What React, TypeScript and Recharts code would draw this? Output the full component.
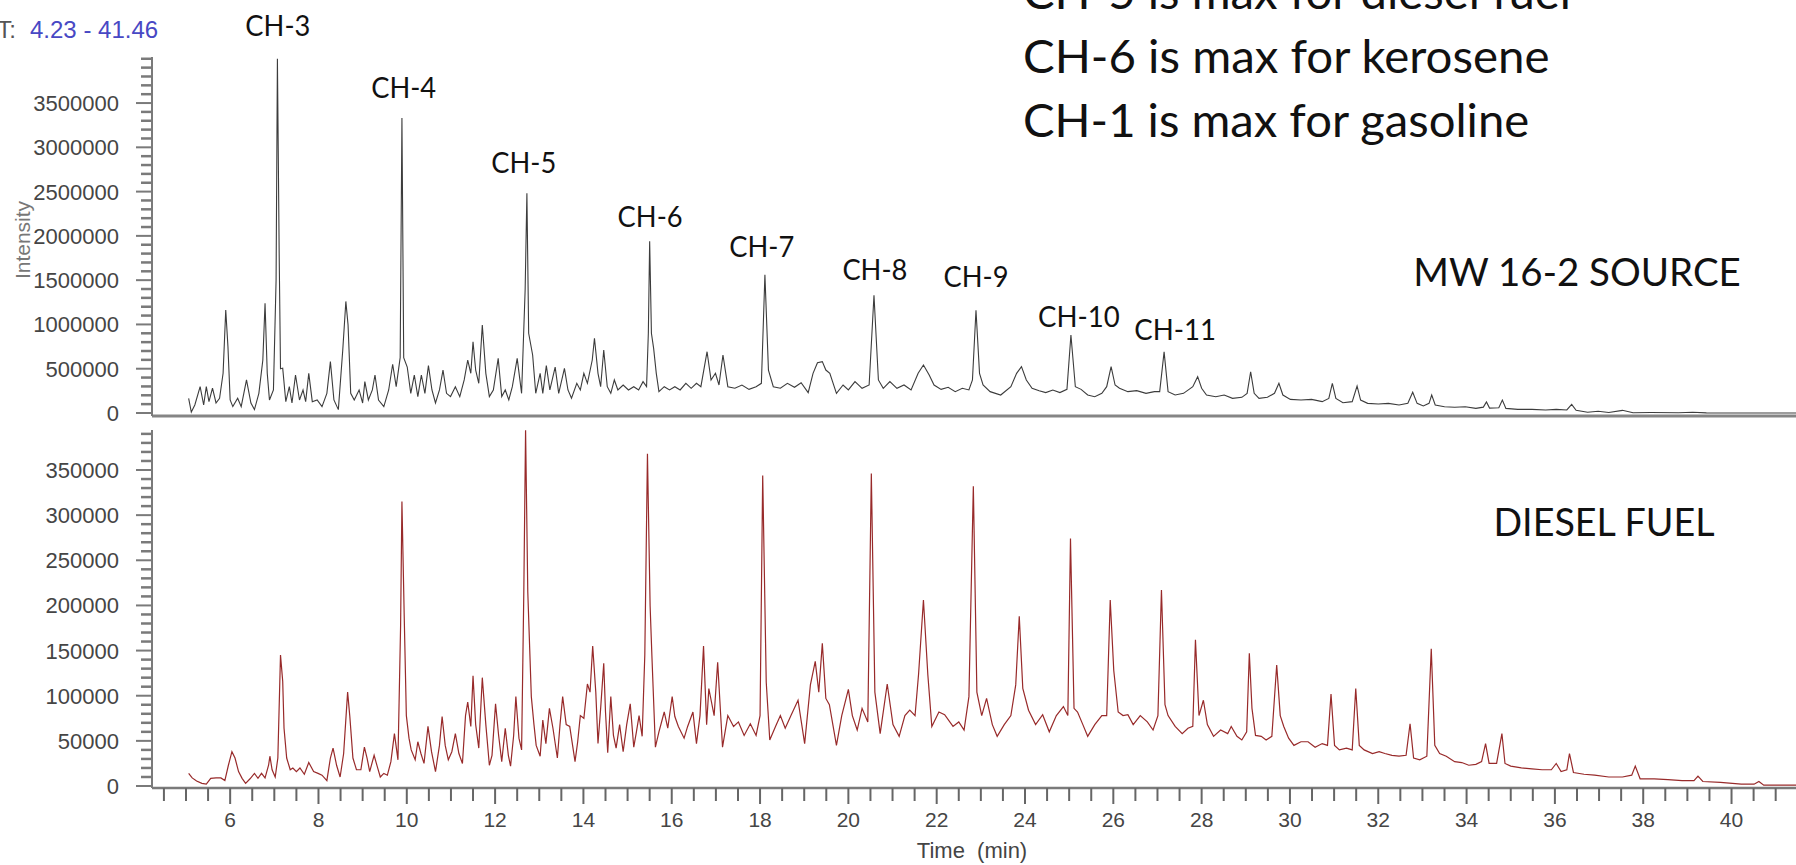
import React from 'react';
import { LineChart, Line, XAxis, YAxis, ReferenceDot } from 'recharts';

// ---------- DATA ----------
// Upper trace: MW 16-2 SOURCE  (time in min, intensity)
const topTimes = [
  5.06, 5.12, 5.2, 5.32, 5.4, 5.46, 5.52, 5.6, 5.68, 5.76, 5.84, 5.9, 5.95, 6.0, 6.06, 6.17, 6.25, 6.37, 6.47, 6.55,
  6.65, 6.74, 6.79, 6.84, 6.89, 6.98, 7.04, 7.07, 7.11, 7.14, 7.19, 7.26, 7.34, 7.4, 7.48, 7.57, 7.65, 7.71, 7.78, 7.86,
  7.97, 8.08, 8.19, 8.27, 8.35, 8.45, 8.55, 8.62, 8.67, 8.73, 8.81, 8.92, 9.0, 9.05, 9.13, 9.22, 9.28, 9.36, 9.48, 9.59,
  9.68, 9.76, 9.85, 9.89, 9.93, 10.01, 10.09, 10.17, 10.25, 10.33, 10.41, 10.49, 10.57, 10.65, 10.74, 10.82, 10.9, 10.99, 11.1, 11.2,
  11.3, 11.38, 11.45, 11.5, 11.56, 11.63, 11.71, 11.79, 11.87, 11.96, 12.07, 12.15, 12.23, 12.31, 12.39, 12.5, 12.6, 12.68, 12.72, 12.76,
  12.85, 12.92, 13.02, 13.08, 13.16, 13.24, 13.36, 13.44, 13.57, 13.65, 13.73, 13.85, 13.93, 14.01, 14.09, 14.2, 14.25, 14.33, 14.39, 14.46,
  14.54, 14.62, 14.7, 14.78, 14.9, 15.02, 15.14, 15.25, 15.35, 15.43, 15.47, 15.5, 15.54, 15.59, 15.65, 15.71, 15.83, 15.95, 16.07, 16.19,
  16.32, 16.44, 16.56, 16.66, 16.8, 16.89, 16.99, 17.07, 17.16, 17.27, 17.43, 17.59, 17.75, 17.91, 18.03, 18.11, 18.19, 18.3, 18.46, 18.62,
  18.78, 18.93, 19.09, 19.2, 19.3, 19.41, 19.49, 19.58, 19.73, 19.88, 20.0, 20.15, 20.31, 20.47, 20.58, 20.68, 20.79, 20.94, 21.1, 21.26,
  21.42, 21.58, 21.7, 21.83, 21.94, 22.1, 22.26, 22.42, 22.58, 22.73, 22.81, 22.89, 22.97, 23.05, 23.21, 23.45, 23.68, 23.81, 23.92, 24.03,
  24.16, 24.32, 24.47, 24.63, 24.79, 24.95, 25.04, 25.14, 25.27, 25.42, 25.58, 25.74, 25.85, 25.95, 26.04, 26.14, 26.33, 26.53, 26.74, 26.93,
  27.05, 27.15, 27.24, 27.4, 27.59, 27.8, 27.91, 28.0, 28.11, 28.32, 28.51, 28.7, 28.91, 29.03, 29.11, 29.19, 29.3, 29.49, 29.65, 29.75,
  29.84, 30.01, 30.25, 30.49, 30.73, 30.88, 30.96, 31.04, 31.2, 31.41, 31.52, 31.6, 31.76, 32.0, 32.23, 32.47, 32.67, 32.78, 32.88, 33.02,
  33.15, 33.21, 33.29, 33.5, 33.73, 33.97, 34.21, 34.38, 34.45, 34.52, 34.73, 34.81, 34.89, 35.16, 35.48, 35.79, 36.03, 36.27, 36.38, 36.48,
  36.74, 36.98, 37.22, 37.53, 37.77, 38.17, 38.8, 39.12, 39.43, 40.38, 41.46,
];
const topValues = [
  166000, 10000, 90000, 297000, 90000, 297000, 128000, 282000, 113000, 166000, 448000, 1163000, 749000, 147000, 72000, 166000, 72000, 373000, 113000, 38000,
  222000, 598000, 1240000, 448000, 147000, 260000, 1500000, 4000000, 1800000, 500000, 507000, 128000, 297000, 113000, 429000, 147000, 260000, 128000, 448000, 128000,
  147000, 72000, 222000, 580000, 147000, 38000, 711000, 1260000, 994000, 222000, 147000, 260000, 113000, 354000, 147000, 260000, 429000, 147000, 72000, 260000,
  550000, 297000, 625000, 3330000, 625000, 519000, 222000, 429000, 185000, 429000, 222000, 535000, 260000, 113000, 260000, 485000, 222000, 185000, 297000, 185000,
  373000, 598000, 448000, 805000, 485000, 335000, 994000, 448000, 185000, 260000, 617000, 185000, 260000, 147000, 297000, 617000, 222000, 1390000, 2480000, 900000,
  655000, 222000, 448000, 222000, 535000, 260000, 519000, 222000, 504000, 260000, 166000, 335000, 260000, 448000, 335000, 598000, 844000, 448000, 297000, 711000,
  297000, 222000, 373000, 260000, 316000, 260000, 297000, 260000, 354000, 297000, 900000, 1940000, 900000, 730000, 448000, 241000, 297000, 260000, 297000, 260000,
  335000, 279000, 335000, 297000, 692000, 373000, 448000, 316000, 655000, 297000, 279000, 316000, 267000, 297000, 335000, 1560000, 485000, 297000, 279000, 335000,
  290000, 342000, 230000, 448000, 568000, 580000, 485000, 448000, 222000, 316000, 260000, 354000, 279000, 316000, 1330000, 373000, 279000, 354000, 279000, 316000,
  260000, 448000, 542000, 429000, 316000, 267000, 290000, 241000, 279000, 260000, 373000, 1160000, 448000, 316000, 241000, 203000, 297000, 448000, 523000, 373000,
  279000, 252000, 230000, 260000, 230000, 267000, 880000, 297000, 267000, 203000, 184000, 222000, 297000, 523000, 316000, 279000, 241000, 252000, 222000, 241000,
  241000, 690000, 241000, 203000, 222000, 297000, 410000, 279000, 203000, 184000, 203000, 165000, 177000, 222000, 466000, 222000, 165000, 177000, 222000, 335000,
  203000, 154000, 146000, 154000, 128000, 165000, 335000, 165000, 116000, 128000, 305000, 146000, 109000, 101000, 109000, 90000, 109000, 235000, 109000, 79000,
  109000, 203000, 90000, 71000, 64000, 71000, 52000, 66000, 125000, 55000, 60000, 146000, 52000, 41000, 41000, 34000, 41000, 34000, 98000, 30000,
  8000, 20000, 6000, 30000, 3000, 5000, 2000, 8000, 1000, 0, 0,
];

// Lower trace: DIESEL FUEL  (time in min, intensity)
const bottomTimes = [
  5.06, 5.14, 5.24, 5.36, 5.46, 5.56, 5.68, 5.79, 5.88, 5.96, 6.04, 6.11, 6.19, 6.27, 6.35, 6.45, 6.55, 6.63, 6.71, 6.79,
  6.87, 6.9, 6.95, 7.02, 7.08, 7.14, 7.19, 7.22, 7.28, 7.36, 7.42, 7.5, 7.58, 7.68, 7.78, 7.89, 7.99, 8.08, 8.19, 8.27,
  8.33, 8.41, 8.49, 8.57, 8.66, 8.71, 8.78, 8.86, 8.96, 9.04, 9.1, 9.16, 9.26, 9.34, 9.4, 9.48, 9.56, 9.64, 9.72, 9.8,
  9.86, 9.89, 9.94, 9.99, 10.05, 10.1, 10.19, 10.25, 10.32, 10.39, 10.48, 10.56, 10.65, 10.74, 10.8, 10.87, 10.94, 11.02, 11.1, 11.18,
  11.26, 11.33, 11.38, 11.45, 11.5, 11.56, 11.63, 11.71, 11.79, 11.87, 11.93, 12.01, 12.08, 12.15, 12.23, 12.3, 12.35, 12.42, 12.47, 12.54,
  12.6, 12.65, 12.69, 12.74, 12.82, 12.88, 12.93, 13.02, 13.08, 13.15, 13.23, 13.31, 13.41, 13.47, 13.53, 13.61, 13.69, 13.81, 13.87, 13.93,
  14.01, 14.09, 14.15, 14.21, 14.28, 14.33, 14.39, 14.46, 14.5, 14.55, 14.62, 14.68, 14.74, 14.82, 14.9, 14.98, 15.06, 15.14, 15.2, 15.26,
  15.33, 15.39, 15.45, 15.51, 15.55, 15.63, 15.71, 15.83, 15.91, 16.01, 16.07, 16.15, 16.28, 16.36, 16.48, 16.56, 16.64, 16.72, 16.79, 16.84,
  16.96, 17.04, 17.15, 17.27, 17.4, 17.51, 17.64, 17.78, 17.91, 18.0, 18.06, 18.14, 18.22, 18.35, 18.46, 18.57, 18.7, 18.86, 19.01, 19.14,
  19.25, 19.33, 19.41, 19.49, 19.57, 19.73, 19.85, 20.0, 20.09, 20.2, 20.31, 20.44, 20.52, 20.6, 20.72, 20.88, 21.01, 21.15, 21.28, 21.39,
  21.51, 21.59, 21.7, 21.8, 21.89, 22.05, 22.18, 22.37, 22.5, 22.62, 22.73, 22.83, 22.91, 23.02, 23.13, 23.26, 23.37, 23.53, 23.68, 23.79,
  23.87, 23.95, 24.08, 24.24, 24.4, 24.55, 24.71, 24.87, 24.97, 25.03, 25.11, 25.19, 25.31, 25.42, 25.58, 25.74, 25.85, 25.93, 26.01, 26.11,
  26.22, 26.33, 26.45, 26.61, 26.77, 26.9, 27.01, 27.09, 27.17, 27.24, 27.4, 27.56, 27.69, 27.8, 27.86, 27.94, 28.04, 28.13, 28.27, 28.43,
  28.59, 28.67, 28.8, 28.91, 29.02, 29.08, 29.14, 29.22, 29.35, 29.46, 29.59, 29.7, 29.78, 29.86, 29.97, 30.09, 30.25, 30.41, 30.57, 30.73,
  30.85, 30.93, 31.01, 31.12, 31.28, 31.41, 31.49, 31.57, 31.68, 31.87, 32.02, 32.15, 32.31, 32.47, 32.63, 32.72, 32.8, 32.94, 33.1, 33.2,
  33.28, 33.39, 33.54, 33.73, 33.89, 34.05, 34.21, 34.34, 34.43, 34.51, 34.68, 34.8, 34.87, 35.0, 35.24, 35.48, 35.71, 35.92, 36.03, 36.14,
  36.27, 36.33, 36.42, 36.66, 36.9, 37.22, 37.53, 37.74, 37.82, 37.93, 38.25, 38.56, 38.88, 39.15, 39.24, 39.35, 39.75, 40.22, 40.51, 40.62,
  40.73, 41.09, 41.46,
];
const bottomValues = [
  14000, 9000, 5500, 3000, 2000, 8500, 9000, 9000, 6000, 23000, 38000, 31000, 16000, 8500, 3000, 8000, 14000, 8500, 14000, 9000,
  23000, 33000, 18000, 10000, 31000, 145000, 116000, 64000, 31000, 18000, 20000, 16000, 20000, 13000, 26000, 16000, 14000, 12000, 6000, 31000,
  42000, 23000, 10000, 36000, 104000, 77000, 31000, 18000, 18000, 43000, 31000, 16000, 34000, 20000, 10000, 14000, 12000, 27000, 58000, 29000,
  178000, 315000, 192000, 78000, 53000, 40000, 29000, 49000, 36000, 25000, 66000, 38000, 16000, 45000, 77000, 45000, 29000, 38000, 58000, 36000,
  25000, 78000, 93000, 66000, 122000, 68000, 42000, 120000, 68000, 23000, 34000, 91000, 56000, 27000, 64000, 34000, 22000, 56000, 99000, 53000,
  40000, 215000, 394000, 215000, 99000, 68000, 45000, 33000, 73000, 47000, 86000, 64000, 31000, 68000, 99000, 68000, 66000, 27000, 49000, 78000,
  75000, 113000, 104000, 155000, 104000, 47000, 86000, 136000, 82000, 37000, 99000, 56000, 42000, 68000, 38000, 68000, 91000, 43000, 60000, 78000,
  55000, 145000, 368000, 200000, 145000, 43000, 60000, 82000, 64000, 99000, 77000, 66000, 53000, 66000, 82000, 47000, 78000, 155000, 68000, 108000,
  78000, 137000, 43000, 78000, 66000, 71000, 56000, 69000, 56000, 78000, 344000, 115000, 51000, 66000, 78000, 64000, 78000, 95000, 47000, 112000,
  138000, 104000, 158000, 97000, 90000, 45000, 78000, 107000, 78000, 62000, 86000, 71000, 346000, 104000, 58000, 113000, 68000, 55000, 78000, 84000,
  78000, 124000, 206000, 123000, 66000, 82000, 79000, 66000, 71000, 62000, 99000, 332000, 104000, 78000, 97000, 68000, 55000, 68000, 78000, 112000,
  188000, 108000, 84000, 68000, 79000, 60000, 78000, 88000, 78000, 274000, 86000, 82000, 68000, 55000, 68000, 78000, 78000, 206000, 128000, 82000,
  78000, 79000, 68000, 78000, 71000, 62000, 78000, 217000, 90000, 78000, 66000, 58000, 64000, 66000, 162000, 78000, 95000, 68000, 55000, 62000,
  58000, 66000, 55000, 51000, 60000, 147000, 86000, 56000, 55000, 51000, 55000, 134000, 78000, 66000, 53000, 45000, 49000, 49000, 43000, 47000,
  45000, 102000, 45000, 40000, 42000, 40000, 108000, 45000, 40000, 36000, 38000, 36000, 34000, 33000, 34000, 69000, 31000, 29000, 33000, 152000,
  45000, 36000, 33000, 27000, 26000, 23000, 24000, 27000, 47000, 25000, 25000, 58000, 25000, 22000, 20000, 19000, 18000, 18000, 25000, 16000,
  18000, 36000, 15000, 13000, 12000, 10000, 10000, 12000, 22000, 8000, 8000, 7000, 6000, 6000, 11000, 5000, 4000, 2000, 2000, 5000,
  1000, 1000, 1000,
];

const topData = topTimes.map((t, i) => ({ t, v: topValues[i] }));
const bottomData = bottomTimes.map((t, i) => ({ t, v: bottomValues[i] }));

// axes
const timeRange = [4.23, 41.46];
const xLabelTicks = [6, 8, 10, 12, 14, 16, 18, 20, 22, 24, 26, 28, 30, 32, 34, 36, 38, 40];
const xTicks = Array.from({ length: 74 }, (_, i) => 4.5 + i * 0.5);
const topYLabels = [0, 500000, 1000000, 1500000, 2000000, 2500000, 3000000, 3500000];
const topYTicks = Array.from({ length: 41 }, (_, i) => i * 100000);
const bottomYLabels = [0, 50000, 100000, 150000, 200000, 250000, 300000, 350000];
const bottomYTicks = Array.from({ length: 40 }, (_, i) => i * 10000);
const topYDomain = [-34000, 4020000];
const bottomYDomain = [-2200, 394300];

// peak annotations (label anchor time / intensity)
const peakNames = ['CH-3', 'CH-4', 'CH-5', 'CH-6', 'CH-7', 'CH-8', 'CH-9', 'CH-10', 'CH-11'];
const peakLabelTimes = [7.08, 9.93, 12.65, 15.51, 18.04, 20.6, 22.89, 25.22, 27.4];
const peakLabelIntensity = [4257000, 3557000, 2710000, 2100000, 1762000, 1502000, 1423000, 971000, 824000];

const notes = ['CH-5 is max for diesel fuel', 'CH-6 is max for kerosene', 'CH-1 is max for gasoline'];
const topTitle = 'MW 16-2 SOURCE';
const bottomTitle = 'DIESEL FUEL';
const rtRange = '4.23 - 41.46';

// ---------- STYLE ----------
const AXIS = '#7a7a7a';
const TICK_TEXT = '#454545';
const ARIAL = "'Liberation Sans', Arial, sans-serif";
const CAL = "Lato, 'Open Sans', sans-serif";

const calW: Record<string, number> = {
  C: 0.533, H: 0.623, '-': 0.306, ' ': 0.226, i: 0.229, s: 0.391, m: 0.799, a: 0.479, x: 0.433, f: 0.305,
  o: 0.527, r: 0.349, k: 0.455, e: 0.498, n: 0.525, d: 0.525, l: 0.229, u: 0.525, g: 0.471, M: 0.855,
  W: 0.89, S: 0.459, O: 0.662, U: 0.653, R: 0.543, E: 0.488, D: 0.615, I: 0.252, L: 0.42, F: 0.459,
};
const calWidth = (s: string, size: number) =>
  s.split('').reduce((a, c) => a + (calW[c] ?? (c >= '0' && c <= '9' ? 0.507 : 0.5)), 0) * size;

const CalText = ({ x, y, size, anchor = 'start', children }: any) => (
  <text
    x={x}
    y={y}
    fontFamily={CAL}
    fontSize={size * 0.885}
    fill="#111"
    textAnchor={anchor}
    textLength={calWidth(children, size)}
    lengthAdjust="spacingAndGlyphs"
  >
    {children}
  </text>
);

const makeYTick = (labels: number[]) => (props: any) => {
  const { x, y, payload } = props;
  const major = labels.includes(payload.value);
  return (
    <g>
      <line x1={x - (major ? 16 : 11)} x2={x} y1={y} y2={y} stroke={AXIS} strokeWidth={major ? 2 : 2.5} />
      {major && (
        <text x={x - 33} y={y + 8} textAnchor="end" fontFamily={ARIAL} fontSize={22} fill={TICK_TEXT}>
          {payload.value}
        </text>
      )}
    </g>
  );
};
const TopYTick = makeYTick(topYLabels);
const BottomYTick = makeYTick(bottomYLabels);

const XTick = (props: any) => {
  const { x, y, payload } = props;
  const major = xLabelTicks.includes(payload.value);
  return (
    <g>
      <line x1={x} x2={x} y1={y} y2={y + (major ? 16 : 13)} stroke="#666" strokeWidth={2} />
      {major && (
        <text x={x} y={y + 39} textAnchor="middle" fontFamily={ARIAL} fontSize={21} fill={TICK_TEXT}>
          {payload.value}
        </text>
      )}
    </g>
  );
};

export default function App() {
  return (
    <div style={{ position: 'fixed', left: 0, top: 0, width: 1796, height: 865, overflow: 'hidden', background: '#fff' }}>
      {/* upper panel */}
      <div style={{ position: 'absolute', left: 0, top: 0 }}>
        <LineChart width={1800} height={430} data={topData} margin={{ top: 57, right: 4, bottom: 13, left: 0 }}>
          <XAxis
            type="number"
            dataKey="t"
            domain={timeRange}
            allowDataOverflow
            ticks={[]}
            tick={false}
            tickLine={false}
            height={1}
            axisLine={{ stroke: '#858585', strokeWidth: 3 }}
          />
          <YAxis
            type="number"
            domain={topYDomain}
            allowDataOverflow
            ticks={topYTicks}
            interval={0}
            tickSize={0}
            tickMargin={0}
            tickLine={false}
            tick={TopYTick}
            width={152}
            axisLine={{ stroke: AXIS, strokeWidth: 2 }}
          />
          <Line type="linear" dataKey="v" stroke="#3c3c3c" strokeWidth={1.1} dot={false} isAnimationActive={false} />
          {peakNames.map((name, i) => (
            <ReferenceDot
              key={name}
              x={peakLabelTimes[i]}
              y={peakLabelIntensity[i]}
              r={0}
              ifOverflow="visible"
              shape={(p: any) => (
                <CalText x={p.cx} y={p.cy} size={33} anchor="middle">
                  {name}
                </CalText>
              )}
            />
          ))}
        </LineChart>
      </div>
      {/* lower panel */}
      <div style={{ position: 'absolute', left: 0, top: 0 }}>
        <LineChart width={1800} height={865} data={bottomData} margin={{ top: 430, right: 4, bottom: 0, left: 0 }}>
          <XAxis
            type="number"
            dataKey="t"
            domain={timeRange}
            allowDataOverflow
            ticks={xTicks}
            interval={0}
            tickSize={0}
            tickMargin={0}
            tickLine={false}
            tick={XTick}
            height={77}
            axisLine={{ stroke: AXIS, strokeWidth: 2.5 }}
          />
          <YAxis
            type="number"
            domain={bottomYDomain}
            allowDataOverflow
            ticks={bottomYTicks}
            interval={0}
            tickSize={0}
            tickMargin={0}
            tickLine={false}
            tick={BottomYTick}
            width={152}
            axisLine={{ stroke: AXIS, strokeWidth: 2 }}
          />
          <Line type="linear" dataKey="v" stroke="#982a2a" strokeWidth={1.2} dot={false} isAnimationActive={false} />
        </LineChart>
      </div>
      {/* text overlay */}
      <svg width={1796} height={865} style={{ position: 'absolute', left: 0, top: 0, pointerEvents: 'none' }}>
        <text x={16} y={38} textAnchor="end" fontFamily={ARIAL} fontSize={24} fill="#555">
          RT:
        </text>
        <text x={30} y={38} fontFamily={ARIAL} fontSize={24} fill="#4848c4" style={{ whiteSpace: 'pre' }}>
          {rtRange}
        </text>
        <text
          x={30}
          y={240}
          transform="rotate(-90 30 240)"
          textAnchor="middle"
          fontFamily={ARIAL}
          fontSize={21}
          fill="#777"
        >
          Intensity
        </text>
        <text x={972} y={858} textAnchor="middle" fontFamily={ARIAL} fontSize={22} fill="#444" style={{ whiteSpace: 'pre' }}>
          {'Time  (min)'}
        </text>
        {notes.map((n, i) => (
          <CalText key={n} x={1023} y={9 + i * 64} size={52}>
            {n}
          </CalText>
        ))}
        <CalText x={1577} y={286} size={44.5} anchor="middle">
          {topTitle}
        </CalText>
        <CalText x={1604} y={536} size={44.5} anchor="middle">
          {bottomTitle}
        </CalText>
      </svg>
    </div>
  );
}
